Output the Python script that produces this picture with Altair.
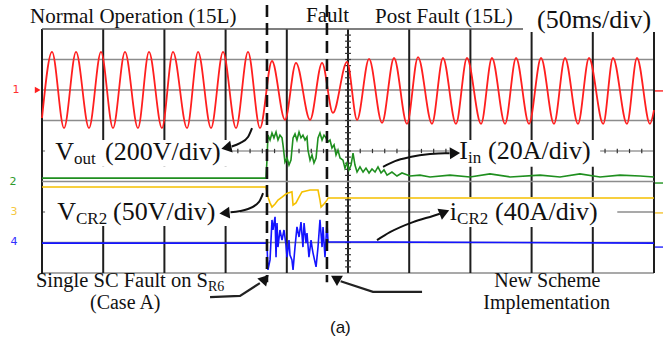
import altair as alt
import pandas as pd

# ---------------- data (x: time in ms, 50 ms/div; y: screen divisions) ----------------
RED_T = [0, 8.2, 18.0, 27.8, 38.4, 48.2, 58.0, 67.8, 78.4, 87.4, 98.0, 107.0, 118.5, 127.5,
         138.1, 147.9, 158.5, 168.3, 178.1, 187.9, 198.5, 207.5, 219.0, 228.8, 237.7, 249.2,
         257.4, 267.2, 277.8, 287.6, 298.2, 307.2, 318.6, 327.6, 338.2, 347.2, 358.7, 367.6,
         378.3, 387.3, 397.9, 407.7, 418.3, 427.3, 437.9, 446.9, 458.5, 466.5, 477.9, 486.1,
         496.7, 500]
RED_V = [1.08, 3.25, 0.75, 3.25, 0.75, 3.25, 0.75, 3.25, 0.75, 3.25, 0.75, 3.25, 0.75, 3.25,
         0.75, 3.25, 0.75, 3.25, 0.75, 2.95, 1.02, 2.89, 1.02, 2.89, 1.25, 2.92,
         1.02, 3.02, 0.92, 3.05, 0.89, 3.08, 0.89, 3.05, 0.89, 3.05, 0.89, 3.05,
         0.89, 3.05, 0.89, 3.05, 0.89, 3.05, 0.89, 3.05, 0.89, 3.05, 0.89, 3.05,
         0.89, 1.34]

GREEN_T = [0, 183.0, 183.8, 184.6, 186.3, 187.9, 189.5, 191.2, 192.8, 194.4, 196.1, 196.9,
           198.5, 200.2, 201.8, 203.4, 205.1, 206.7, 208.3, 210.0, 211.6, 213.2, 214.9, 216.5,
           217.3, 219.0, 220.6, 222.2, 223.9, 225.5, 227.1, 228.8, 230.4, 232.0, 233.7, 235.3,
           236.9, 238.6, 240.2, 241.8, 243.5, 245.9, 247.5, 249.2, 250.8, 252.5, 254.1, 255.7,
           257.4, 259.8, 262.3, 264.7, 267.2, 269.6, 272.1, 274.5, 277.0, 279.4, 281.9, 285.9,
           290.0, 294.1, 300.7, 308.8, 317.0, 333.3, 349.7, 366.0, 382.4, 406.9, 423.2, 439.5,
           455.9, 472.2, 488.6, 500]
GREEN_V = [-0.89, -0.89, -0.30, 0.52, 0.36, 0.59, 0.43, 0.62, 0.36, 0.52, 0.43, 0.20,
           -0.36, -0.23, -0.46, -0.30, 0.43, 0.56, 0.36, 0.62, 0.43, 0.52, 0.36, 0.46,
           0.03, -0.30, -0.13, -0.39, -0.23, 0.43, 0.59, 0.36, 0.52, 0.43, 0.30, 0.36,
           0.10, 0.20, -0.13, 0.03, -0.23, -0.30, -0.56, -0.39, -0.62, -0.46, -0.07, -0.46,
           -0.69, -0.52, -0.69, -0.56, -0.72, -0.59, -0.69, -0.52, -0.72, -0.62, -0.79, -0.69,
           -0.82, -0.72, -0.82, -0.79, -0.85, -0.79, -0.85, -0.75, -0.85, -0.79, -0.85, -0.75,
           -0.85, -0.79, -0.82, -0.85]

YELLOW_T = [0, 183.0, 184.6, 186.3, 187.9, 190.4, 192.8, 196.1, 199.3, 201.0, 204.2, 205.1,
            207.5, 210.0, 212.4, 215.7, 219.0, 222.2, 225.5, 227.1, 228.0, 230.4, 232.8,
            233.7, 500]
YELLOW_V = [-1.18, -1.18, -1.51, -1.70, -1.84, -1.74, -1.61, -1.51, -1.41, -1.38, -1.34, -1.77,
            -1.70, -1.51, -1.34, -1.31, -1.28, -1.28, -1.28, -1.61, -1.84, -1.74, -1.61,
            -1.54, -1.54]

BLUE_T = [0, 183.8, 184.6, 186.3, 187.9, 188.7, 190.4, 191.2, 192.0, 192.8, 194.4, 196.1,
          197.7, 199.3, 200.2, 201.8, 202.6, 204.2, 205.1, 206.7, 208.3, 210.0, 211.6, 213.2,
          214.1, 215.7, 216.5, 218.1, 219.8, 220.6, 221.4, 223.9, 225.5, 227.1, 228.8, 229.6,
          231.2, 232.8, 233.7, 500]
BLUE_V = [-3.02, -3.02, -3.90, -3.57, -2.26, -2.59, -2.16, -3.48, -2.36, -3.15, -2.59, -2.92,
          -2.59, -3.08, -3.48, -2.92, -3.41, -3.57, -3.90, -3.15, -2.49, -2.82, -2.33, -3.15,
          -2.36, -3.02, -2.69, -3.48, -2.92, -3.15, -3.34, -3.80, -3.15, -2.26, -3.15, -2.49,
          -3.48, -2.36, -2.98, -3.02]

GRID_T = [0, 50, 100, 150, 200, 250, 300, 350, 400, 450, 500]
GRID_D = [-4, -3, -2, 1, 2, 3]
FAULT_T = [183.8, 232.8]          # dashed markers: fault start / new scheme

# ---------------- scales / helpers ----------------
XS = alt.Scale(domain=[0, 500], nice=False, zero=False)
YS = alt.Scale(domain=[-4, 4], nice=False, zero=False)


def seg(df, color, width, dash=None):
    kw = dict(color=color, strokeWidth=width)
    if dash:
        kw["strokeDash"] = dash
    return alt.Chart(df).mark_rule(**kw).encode(
        x=alt.X("x1:Q", scale=XS, axis=None), x2="x2:Q",
        y=alt.Y("y1:Q", scale=YS, axis=None), y2="y2:Q")


def trace(ts, vs, color, interp="linear", width=1.5):
    df = pd.DataFrame({"t": ts, "d": vs})
    return alt.Chart(df).mark_line(color=color, strokeWidth=width, interpolate=interp).encode(
        x=alt.X("t:Q", scale=XS, axis=None), y=alt.Y("d:Q", scale=YS, axis=None))


def texts(rows, align, font="Liberation Serif", baseline="alphabetic"):
    df = pd.DataFrame(rows, columns=["s", "t", "d", "fs", "c"])
    return alt.Chart(df).mark_text(align=align, baseline=baseline, font=font).encode(
        x=alt.X("t:Q", scale=XS, axis=None), y=alt.Y("d:Q", scale=YS, axis=None),
        text="s:N", size=alt.Size("fs:Q", scale=None, legend=None),
        color=alt.Color("c:N", scale=None, legend=None))


# grid
vgrid = seg(pd.DataFrame({"x1": GRID_T, "x2": GRID_T, "y1": [-4] * 11, "y2": [4] * 11}), "#1e1e1e", 2)
hgrid = seg(pd.DataFrame({"x1": [0] * 6, "x2": [500] * 6, "y1": GRID_D, "y2": GRID_D}), "#8c8c8c", 1.5)
topline = seg(pd.DataFrame({"x1": [0], "x2": [393], "y1": [4], "y2": [4]}), "#555555", 1.5)
center_h = seg(pd.DataFrame({"x1": [0], "x2": [500], "y1": [0], "y2": [0]}), "#6a6a6a", 1.2)
tk_t = [i * 10 for i in range(1, 50)]
ticks_h = seg(pd.DataFrame({"x1": tk_t, "x2": tk_t, "y1": [-0.07] * len(tk_t), "y2": [0.07] * len(tk_t)}), "#333333", 1.2)
tk_d = [round(i * 0.2, 2) for i in range(-19, 20)]
ticks_v = seg(pd.DataFrame({"x1": [247.6] * len(tk_d), "x2": [252.4] * len(tk_d), "y1": tk_d, "y2": tk_d}), "#333333", 1.2)

# white label boxes hiding grid
boxes = pd.DataFrame({
    "x1": [2.5, 2.5, 333.0, 317.0, 393.0],
    "x2": [155.0, 161.8, 456.0, 470.0, 520.0],
    "y1": [0.36, -0.52, 0.36, -1.51, 3.90],
    "y2": [-0.52, -2.46, -0.52, -2.49, 5.2]})
box_layer = alt.Chart(boxes).mark_rect(color="white").encode(
    x=alt.X("x1:Q", scale=XS, axis=None), x2="x2:Q",
    y=alt.Y("y1:Q", scale=YS, axis=None), y2="y2:Q")

hline_m1 = seg(pd.DataFrame({"x1": [0], "x2": [500], "y1": [-1], "y2": [-1]}), "#8c8c8c", 1.5)

# traces
red = trace(RED_T, RED_V, "#ff1f1f", "monotone", 1.8)
green = trace(GREEN_T, GREEN_V, "#1f8f1f", width=1.6)
yellow = trace(YELLOW_T, YELLOW_V, "#f5c000", width=1.6)
blue = trace(BLUE_T, BLUE_V, "#1414ff", width=1.6)

dashed = seg(pd.DataFrame({"x1": FAULT_T, "x2": FAULT_T, "y1": [4.79, 4.79], "y2": [-4.3, -4.3]}),
             "#111111", 2.6, [12, 6])

# arrows
curved = pd.DataFrame({
    "id": [1] * 4 + [2] * 4 + [3] * 6 + [4] * 5,
    "t": [171.6, 168.3, 161.8, 155.0,
          180.6, 177.3, 168.3, 154.0,
          278.6, 288.4, 300.7, 317.0, 329.2, 333.0,
          273.7, 284.3, 303.1, 319.4, 325.0],
    "d": [0.75, 0.46, 0.26, 0.15,
          -1.38, -1.67, -1.90, -2.01,
          -0.52, -0.33, -0.20, -0.10, -0.07, -0.07,
          -2.92, -2.66, -2.33, -2.13, -2.06]})
straight = pd.DataFrame({
    "id": [5] * 3 + [6] * 3,
    "t": [137.3, 161.8, 178.0, 310.5, 270.4, 244.0],
    "d": [-4.79, -4.75, -4.33, -4.62, -4.62, -4.27]})
arr_c = alt.Chart(curved).mark_line(color="#111111", strokeWidth=2, interpolate="monotone").encode(
    x=alt.X("t:Q", scale=XS, axis=None), y=alt.Y("d:Q", scale=YS, axis=None), detail="id:N")
arr_s = alt.Chart(straight).mark_line(color="#222222", strokeWidth=2.2).encode(
    x=alt.X("t:Q", scale=XS, axis=None), y=alt.Y("d:Q", scale=YS, axis=None), detail="id:N")
heads = pd.DataFrame({
    "t": [152.0, 150.5, 336.0, 327.5, 181.4, 241.0],
    "d": [0.12, -2.03, -0.07, -2.03, -4.23, -4.20],
    "a": [258, 265, 88, 68, 42, 300]})
head_layer = alt.Chart(heads).mark_point(shape="triangle", filled=True, color="#111111",
                                          opacity=1, size=140).encode(
    x=alt.X("t:Q", scale=XS, axis=None), y=alt.Y("d:Q", scale=YS, axis=None),
    angle=alt.Angle("a:Q", scale=None))

# texts
K = "#111111"
left_txt = texts([
    ["Normal Operation (15L)", -9.8, 4.20, 21, K],
    ["Fault", 215.7, 4.23, 21, K],
    ["Post Fault (15L)", 272.1, 4.20, 21, K],
    ["(50ms/div)", 404.4, 4.03, 26, K],
    ["(200V/div)", 51.5, -0.30, 26, K],
    ["(20A/div)", 364.4, -0.26, 26, K],
    ["(50V/div)", 58.0, -2.26, 26, K],
    ["(40A/div)", 370.1, -2.26, 26, K],
    ["(Case A)", 39.2, -5.18, 20, K],
    ["New Scheme", 369.5, -4.46, 20, K],
    ["Implementation", 360.5, -5.18, 20, K],
    ["out", 26.1, -0.43, 17, K],
    ["in", 348.0, -0.39, 17, K],
    ["CR2", 27.8, -2.39, 17, K],
    ["CR2", 339.1, -2.39, 17, K],
    ["R6", 135.6, -4.59, 14, K],
], "left")
right_txt = texts([
    ["V", 26.1, -0.30, 26, K],
    ["I", 348.0, -0.26, 26, K],
    ["V", 27.8, -2.26, 26, K],
    ["i", 339.1, -2.26, 26, K],
    ["Single SC Fault on S", 135.6, -4.46, 20.5, K],
], "right")
caption = texts([["(a)", 235.3, -5.97, 17, K]], "left", font="Liberation Sans")
chan = texts([
    ["1", -21.2, 2.0, 11, "#ff3030"],
    ["2", -23.7, -1.02, 11, "#2e9a2e"],
    ["3", -22.9, -2.0, 11, "#f5c842"],
    ["4", -22.9, -2.98, 11, "#3030ff"],
], "center", font="DejaVu Sans", baseline="middle")
red_mark = alt.Chart(pd.DataFrame({"t": [-3.5], "d": [2.0]})).mark_point(
    shape="triangle-right", filled=True, color="#ff2020", opacity=1, size=45).encode(
    x=alt.X("t:Q", scale=XS, axis=None), y=alt.Y("d:Q", scale=YS, axis=None))
right_marks = alt.Chart(pd.DataFrame({
    "x1": [500.8] * 4, "x2": [507.4] * 4,
    "y1": [1.97, -1.05, -2.03, -3.15], "y2": [1.97, -1.05, -2.03, -3.15],
    "c": ["#ff3030", "#2e9a2e", "#f5c842", "#3030ff"]})).mark_rule(strokeWidth=1.5).encode(
    x=alt.X("x1:Q", scale=XS, axis=None), x2="x2:Q",
    y=alt.Y("y1:Q", scale=YS, axis=None), y2="y2:Q",
    color=alt.Color("c:N", scale=None, legend=None))

chart = alt.layer(
    hgrid, center_h, ticks_h, vgrid, ticks_v, topline, box_layer, hline_m1,
    red, green, yellow, blue, dashed,
    arr_c, arr_s, head_layer,
    left_txt, right_txt, caption, chan, red_mark, right_marks
).properties(
    width=612, height=244,
    padding={"left": 42, "top": 29, "right": 9, "bottom": 66},
    autosize=alt.AutoSizeParams(type="none"),
    background="white",
).configure_view(stroke=None)

chart.save("out.html", embed_options={"renderer": "svg", "actions": False})
